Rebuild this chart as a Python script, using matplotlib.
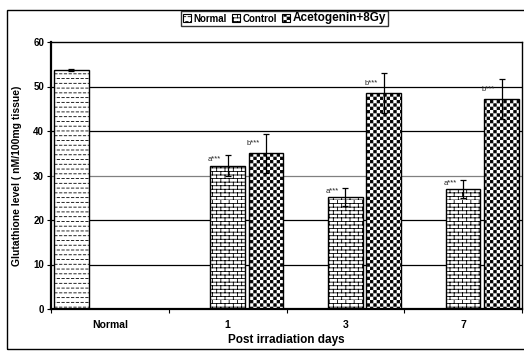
import numpy as np
import matplotlib
matplotlib.use("Agg")
import matplotlib.pyplot as plt
import matplotlib.hatch as mhatch
from matplotlib.path import Path
from matplotlib.patches import Rectangle, Patch

# ---------------- data ----------------
categories = ["Normal", "1", "3", "7"]
series_names = ["Normal", "Control", "Acetogenin+8Gy"]
normal_vals = [53.7, None, None, None]
normal_err = [0.2, None, None, None]
control_vals = [None, 32.2, 25.2, 27.0]
control_err = [None, 2.3, 2.1, 2.1]
aceto_vals = [None, 35.0, 48.5, 47.2]
aceto_err = [None, 4.4, 4.5, 4.5]
control_labels = [None, "a***", "a***", "a***"]
aceto_labels = [None, "b***", "b***", "b***"]
y_ticks = [0, 10, 20, 30, 40, 50, 60]


# ---------------- custom fill patterns ----------------
class DashHatch(mhatch.HatchPatternBase):
    def __init__(self, hatch, density):
        self.on = hatch.count('-') > 0
        self.rows, self.cols = 21, 21
        self.num_vertices = self.rows * self.cols * 2 if self.on else 0

    def set_vertices_and_codes(self, vertices, codes):
        k = 0
        for r in range(self.rows):
            y = (r + 0.5) / self.rows
            off = 0.5 if r % 2 else 0.0
            for c in range(self.cols):
                x0 = (c + off) / self.cols
                x1 = x0 + 0.5 / self.cols
                vertices[k] = (x0, y)
                vertices[k + 1] = (x1, y)
                codes[k] = Path.MOVETO
                codes[k + 1] = Path.LINETO
                k += 2


class BrickHatch(mhatch.HatchPatternBase):
    def __init__(self, hatch, density):
        self.on = hatch.count('+') > 0
        self.rows, self.cols = 28, 12
        self.num_vertices = (self.rows * 2 + self.rows * self.cols * 2) if self.on else 0

    def set_vertices_and_codes(self, vertices, codes):
        k = 0
        h = 1.0 / self.rows
        for r in range(self.rows):
            y = r * h
            vertices[k] = (0.0, y)
            vertices[k + 1] = (1.0, y)
            codes[k] = Path.MOVETO
            codes[k + 1] = Path.LINETO
            k += 2
        for r in range(self.rows):
            y0 = r * h
            off = 0.5 if r % 2 else 0.0
            for c in range(self.cols):
                x = (c + off) / self.cols
                vertices[k] = (x, y0)
                vertices[k + 1] = (x, y0 + h)
                codes[k] = Path.MOVETO
                codes[k + 1] = Path.LINETO
                k += 2


class CheckerHatch(mhatch.HatchPatternBase):
    def __init__(self, hatch, density):
        self.on = hatch.count('x') > 0
        self.n = 30
        self.num_vertices = (self.n * self.n // 2) * 5 if self.on else 0

    def set_vertices_and_codes(self, vertices, codes):
        k = 0
        s = 1.0 / self.n
        inset = 0.0045
        for r in range(self.n):
            for c in range(self.n):
                if (r + c) % 2:
                    continue
                x0, y0 = c * s + inset, r * s + inset
                x1, y1 = (c + 1) * s - inset, (r + 1) * s - inset
                vertices[k:k + 5] = [(x0, y0), (x1, y0), (x1, y1), (x0, y1), (x0, y0)]
                codes[k:k + 5] = [Path.MOVETO, Path.LINETO, Path.LINETO,
                                  Path.LINETO, Path.CLOSEPOLY]
                k += 5


mhatch._hatch_types[:] = [DashHatch, BrickHatch, CheckerHatch]

plt.rcParams['font.family'] = ['Liberation Sans', 'DejaVu Sans']
plt.rcParams['hatch.linewidth'] = 0.6

fig = plt.figure(figsize=(5.24, 3.52), dpi=100)
ax = fig.add_axes([51 / 524, 1 - 309 / 352, (522 - 51) / 524, (309 - 42) / 352])

x = np.arange(len(categories))
offsets = [-0.326, 0.0, 0.326]
width = 0.295
hatches = ['---', '+', 'x']
all_vals = [normal_vals, control_vals, aceto_vals]
all_errs = [normal_err, control_err, aceto_err]

# gridlines
for yv in y_ticks[1:-1]:
    ax.axhline(yv, color='#808080' if yv == 30 else 'black', lw=0.9, zorder=1)

for si, (vals, errs) in enumerate(zip(all_vals, all_errs)):
    idx = [i for i, v in enumerate(vals) if v is not None]
    xs = x[idx] + offsets[si]
    hs = [vals[i] for i in idx]
    es = [errs[i] for i in idx]
    ax.bar(xs, hs, width=width, color='white', edgecolor='black', linewidth=1.0,
           hatch=hatches[si], zorder=2)
    ax.errorbar(xs, hs, yerr=es, fmt='none', ecolor='black', elinewidth=0.9,
                capsize=2.3, capthick=0.9, zorder=3)

for lbls, vals, si, dy in [(control_labels, control_vals, 1, 1.3),
                           (aceto_labels, aceto_vals, 2, 2.2)]:
    for i, (lb, v) in enumerate(zip(lbls, vals)):
        if lb is None:
            continue
        ax.text(x[i] + offsets[si] - 0.055, v + dy, lb, ha='right', va='center',
                fontsize=5.5, color='#222222', zorder=4)

ax.set_xlim(-0.5, len(categories) - 0.5)
ax.set_ylim(0, 60)
ax.set_yticks(y_ticks)
ax.set_yticklabels([str(t) for t in y_ticks], fontsize=7, fontweight='bold')
ax.set_xticks(np.arange(len(categories) + 1) - 0.5)
ax.set_xticklabels([])
ax.set_xticks(x, minor=True)
ax.set_xticklabels(categories, minor=True, fontsize=7.5, fontweight='bold')
ax.tick_params(axis='x', which='major', direction='out', length=3, width=0.8)
ax.tick_params(axis='x', which='minor', length=0, pad=8)
ax.tick_params(axis='y', direction='out', length=3, width=0.8, pad=2)

for side in ['top', 'right']:
    ax.spines[side].set_linewidth(1.0)
ax.spines['left'].set_linewidth(1.6)
ax.spines['bottom'].set_linewidth(1.6)

ax.set_xlabel("Post irradiation days", fontsize=8.5, fontweight='bold', labelpad=3)
ax.set_ylabel("Glutathione level ( nM/100mg tissue)", fontsize=7.5, fontweight='bold',
              labelpad=8)

handles = [Patch(facecolor='white', edgecolor='black', hatch=h, lw=0.8) for h in hatches]
leg = fig.legend(handles, series_names, loc='center', ncol=3,
                 bbox_to_anchor=(284.5 / 524, 1 - 18.5 / 352),
                 prop={'weight': 'bold', 'size': 7}, frameon=True, fancybox=False,
                 edgecolor='black', handlelength=0.8, handleheight=0.8,
                 handletextpad=0.3, columnspacing=0.5, borderpad=0.2,
                 borderaxespad=0)
leg.get_frame().set_linewidth(1.0)
leg.get_texts()[2].set_fontsize(8.5)

fig.patches.append(Rectangle((7 / 524, 3 / 352), 1.0, 1 - 13 / 352,
                             transform=fig.transFigure, fill=False,
                             edgecolor='black', lw=1.0))

fig.savefig("out.png", dpi=100)
